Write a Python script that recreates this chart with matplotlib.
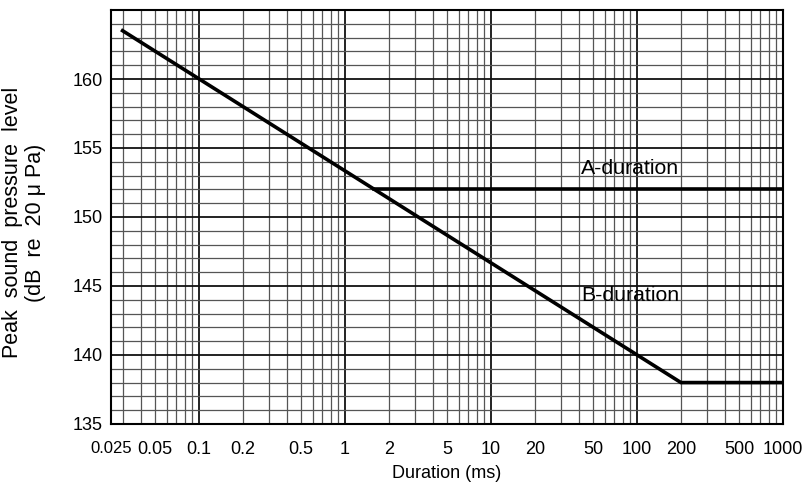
import numpy as np
import matplotlib
matplotlib.use("Agg")
import matplotlib.pyplot as plt

plt.rcParams['font.family'] = ['Liberation Sans', 'DejaVu Sans']

# B-duration curve (ms, dB)
b_dur = [0.03, 200, 1000]
b_spl = [163.5, 138, 138]
# A-duration curve
a_dur = [1.585, 1000]
a_spl = [152, 152]

x_ticks = [0.025, 0.05, 0.1, 0.2, 0.5, 1, 2, 5, 10, 20, 50, 100, 200, 500, 1000]
x_labels = ["0.025", "0.05", "0.1", "0.2", "0.5", "1", "2", "5", "10", "20",
            "50", "100", "200", "500", "1000"]
y_ticks = [135, 140, 145, 150, 155, 160]

fig = plt.figure(figsize=(8.08, 4.93), dpi=100)
ax = fig.add_axes([0.1374, 0.14, 0.8317, 0.8397])
ax.set_xscale('log')
ax.set_xlim(0.025, 1000)
ax.set_ylim(135, 165)

# grid drawn by hand: dark decades / 5 dB, lighter sub lines
for dec in [0.01, 0.1, 1, 10, 100]:
    for k in range(2, 10):
        v = dec * k
        if 0.025 < v < 1000:
            ax.axvline(v, color='#555555', lw=0.9, zorder=1)
for v in [0.1, 1, 10, 100]:
    ax.axvline(v, color='#111111', lw=1.3, zorder=1)
for v in range(136, 165):
    if v % 5:
        ax.axhline(v, color='#555555', lw=0.9, zorder=1)
for v in range(140, 165, 5):
    ax.axhline(v, color='#111111', lw=1.3, zorder=1)

ax.plot(b_dur, b_spl, color='black', lw=2.6, solid_joinstyle='miter', zorder=3)
ax.plot(a_dur, a_spl, color='black', lw=2.6, zorder=3)

ax.text(90, 153.55, "A-duration", fontsize=15.3, ha='center', va='center', zorder=4)
ax.text(90, 144.3, "B-duration", fontsize=15.3, ha='center', va='center', zorder=4)

ax.set_xticks(x_ticks)
ax.set_xticklabels(x_labels)
ax.xaxis.set_minor_locator(matplotlib.ticker.NullLocator())
ax.set_yticks(y_ticks)
ax.tick_params(axis='x', length=0, labelsize=13, pad=12)
ax.tick_params(axis='y', length=0, labelsize=13, pad=6)
ax.get_xticklabels()[0].set_fontsize(12)

for s in ax.spines.values():
    s.set_linewidth(1.5)
    s.set_zorder(5)

ax.set_xlabel("Duration (ms)", fontsize=13, labelpad=5)
fig.text(0.03, 0.548, "Peak  sound  pressure  level\n(dB  re  20 \u03bc Pa)",
         fontsize=15.5, rotation=90, ha='center', va='center',
         multialignment='center', linespacing=1.15)

fig.savefig("out.png", dpi=100)
